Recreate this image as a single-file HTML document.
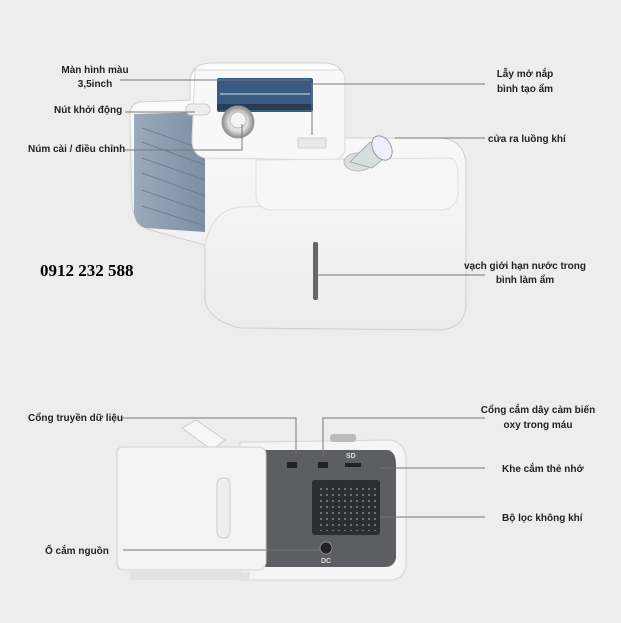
<!DOCTYPE html>
<html><head><meta charset="utf-8"><style>
html,body{margin:0;padding:0;background:#ededed;}
svg{display:block}
text{font-family:"Liberation Sans",sans-serif;font-weight:bold;font-size:10px;fill:#222;}
</style></head><body>
<svg width="621" height="623" viewBox="0 0 621 623">
<defs>
<linearGradient id="wb" x1="0" y1="0" x2="0" y2="1"><stop offset="0" stop-color="#fdfdfd"/><stop offset="1" stop-color="#ececec"/></linearGradient>
<linearGradient id="gp" x1="0" y1="0" x2="1" y2="0"><stop offset="0" stop-color="#9aaabb"/><stop offset="1" stop-color="#7d8fa4"/></linearGradient>
<radialGradient id="kn"><stop offset="0" stop-color="#fff"/><stop offset="0.6" stop-color="#ddd"/><stop offset="1" stop-color="#888"/></radialGradient>
<pattern id="dots" x="0" y="0" width="6" height="6" patternUnits="userSpaceOnUse"><rect width="6" height="6" fill="#2d2e30"/><circle cx="3" cy="3" r="1.1" fill="#777"/></pattern>
</defs>
<rect width="621" height="623" fill="#ededed"/>

<!-- TOP DEVICE -->
<path d="M140 102 Q128 104 130 120 L132 205 Q134 225 150 230 L205 245 L205 300 Q208 320 240 328 L440 330 Q465 328 466 305 L466 165 Q465 140 440 138 L345 138 L345 80 Q343 64 325 63 L210 63 Q192 64 190 80 L190 100 Z" fill="url(#wb)" stroke="#cfcfcf"/>
<path d="M134 114 L205 112 L205 232 L145 228 Q135 225 134 212 Z" fill="url(#gp)"/>
<g stroke="#6d7f94" stroke-width="1" fill="none">
<line x1="142" y1="128" x2="205" y2="150"/><line x1="142" y1="142" x2="205" y2="165"/><line x1="142" y1="158" x2="205" y2="180"/><line x1="142" y1="173" x2="205" y2="196"/><line x1="142" y1="190" x2="205" y2="212"/><line x1="142" y1="206" x2="205" y2="226"/></g>
<path d="M195 70 L340 70 Q346 72 345 90 L345 150 Q343 160 330 160 L205 158 Q192 155 192 140 Z" fill="#f8f8f8" stroke="#d8d8d8"/>
<rect x="217" y="78" width="96" height="34" rx="2" fill="#3b5a82"/>
<rect x="220" y="93" width="90" height="2" fill="#bcd" opacity="0.6"/>
<rect x="217" y="104" width="96" height="6" fill="#2a3c55"/>
<circle cx="238" cy="122" r="16" fill="url(#kn)" stroke="#999"/>
<circle cx="238" cy="120" r="8" fill="#f4f4f4" stroke="#bbb"/>
<rect x="186" y="104" width="24" height="11" rx="5" fill="#eee" stroke="#ccc"/>
<path d="M205 245 Q212 210 240 207 L345 205 L345 160" fill="none" stroke="#dcdcdc"/>
<path d="M256 160 L450 158 Q458 160 458 175 L458 195 Q455 210 440 210 L270 210 Q256 208 256 195 Z" fill="#f7f7f7" stroke="#dedede"/>
<rect x="298" y="138" width="28" height="10" fill="#e8e8e8" stroke="#d0d0d0"/>
<ellipse cx="358" cy="162" rx="14" ry="9" fill="#ddd" stroke="#bbb"/>
<path d="M350 162 L370 142 L392 152 L372 168 Z" fill="#d8dde0" stroke="#aaa"/>
<ellipse cx="382" cy="148" rx="9" ry="13" fill="#eef" stroke="#999" transform="rotate(-30 382 148)"/>
<rect x="313" y="242" width="5" height="58" rx="2" fill="#666"/>

<text x="95" y="73" text-anchor="middle">Màn hình màu</text>
<text x="95" y="87" text-anchor="middle">3,5inch</text>
<line x1="120" y1="80" x2="310" y2="80" stroke="#777"/>
<text x="54" y="113">Nút khởi động</text>
<line x1="125" y1="112" x2="195" y2="112" stroke="#777"/>
<text x="28" y="152">Núm cài  / điều chỉnh</text>
<polyline points="125,150 242,150 242,124" fill="none" stroke="#777"/>
<text x="525" y="77" text-anchor="middle">Lẫy mở nắp</text>
<text x="525" y="92" text-anchor="middle">bình tạo ẩm</text>
<polyline points="485,84 312,84 312,135" fill="none" stroke="#777"/>
<text x="488" y="142">cửa ra luồng khí</text>
<line x1="395" y1="138" x2="485" y2="138" stroke="#777"/>
<text x="40" y="276" style="font-family:'Liberation Serif',serif;font-size:17px;fill:#000">0912 232 588</text>
<text x="525" y="269" text-anchor="middle">vạch  giới hạn  nước trong</text>
<text x="525" y="283" text-anchor="middle">bình làm ẩm</text>
<line x1="318" y1="275" x2="485" y2="275" stroke="#777"/>

<!-- BOTTOM DEVICE -->
<path d="M182 428 L196 420 L225 440 L212 450 Z" fill="#f7f7f7" stroke="#ccc"/>
<path d="M255 442 L390 440 Q405 442 406 460 L406 565 Q404 580 390 580 L240 580 L240 442 Z" fill="#f5f5f5" stroke="#d4d4d4"/>
<rect x="330" y="434" width="26" height="8" rx="3" fill="#bbb"/>
<path d="M265 450 L388 450 Q396 452 396 465 L396 558 Q394 567 385 567 L265 567 Z" fill="#5c5e61"/>
<rect x="312" y="480" width="68" height="55" rx="3" fill="#2d2e30"/>
<rect x="316" y="484" width="60" height="47" fill="url(#dots)"/>
<circle cx="326" cy="548" r="6" fill="#222" stroke="#888"/>
<text x="321" y="563" style="font-size:7px;fill:#ddd">DC</text>
<rect x="287" y="462" width="10" height="6" fill="#222"/>
<rect x="318" y="462" width="10" height="6" fill="#222"/>
<rect x="345" y="463" width="16" height="4" fill="#222"/>
<text x="346" y="458" style="font-size:7px;fill:#ddd">SD</text>
<path d="M117 452 Q117 447 124 447 L260 447 Q266 448 266 455 L266 562 Q265 570 258 570 L124 570 Q117 570 117 562 Z" fill="#f3f3f3" stroke="#d2d2d2"/>
<rect x="217" y="478" width="13" height="60" rx="6" fill="#eee" stroke="#ccc"/>
<rect x="130" y="572" width="120" height="8" fill="#e2e2e2"/>

<text x="28" y="421">Cổng truyền dữ liệu</text>
<polyline points="122,418 296,418 296,455" fill="none" stroke="#777"/>
<text x="538" y="413" text-anchor="middle">Cổng cắm dây cảm biến</text>
<text x="538" y="428" text-anchor="middle">oxy trong máu</text>
<polyline points="485,418 323,418 323,455" fill="none" stroke="#777"/>
<text x="502" y="472">Khe cắm thẻ nhớ</text>
<line x1="380" y1="468" x2="485" y2="468" stroke="#777"/>
<text x="502" y="521">Bộ lọc không khí</text>
<line x1="380" y1="517" x2="485" y2="517" stroke="#777"/>
<text x="45" y="554">Ổ cắm nguồn</text>
<line x1="123" y1="550" x2="320" y2="550" stroke="#777"/>
</svg>
</body></html>
